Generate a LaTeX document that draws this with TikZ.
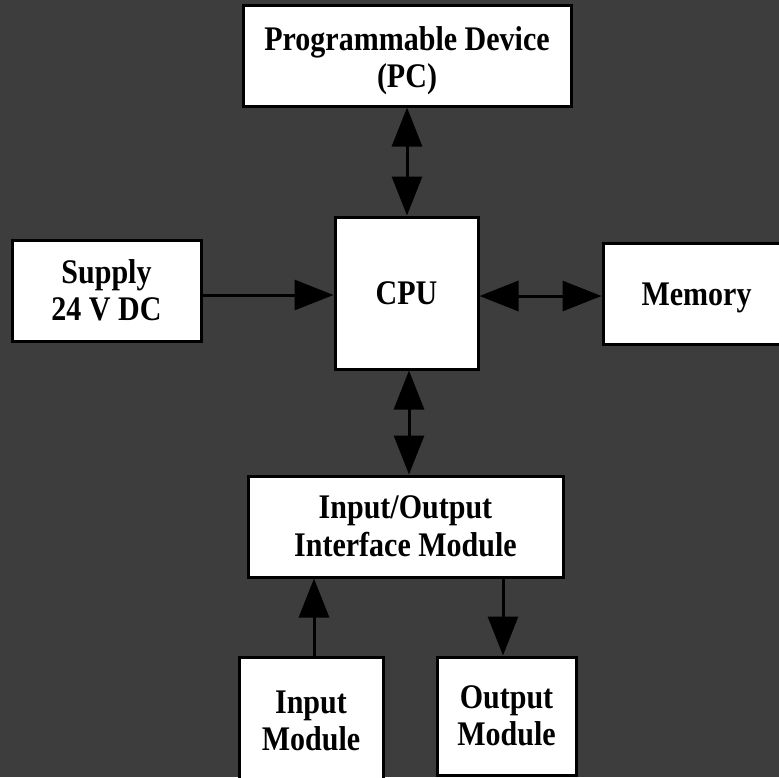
\documentclass[tikz,border=0pt]{standalone}
\usepackage{fontspec}
\setmainfont{Liberation Serif}
\newfontfamily\condserif[FakeStretch=0.87]{Liberation Serif}
\usetikzlibrary{arrows.meta}
\definecolor{bg}{RGB}{61,61,61}
\tikzset{
  blk/.style={draw=black, fill=white, line width=3pt, rectangle, align=center,
    font=\condserif\fontsize{34.5}{37.5}\selectfont\bfseries, inner sep=0pt},
  oneline/.style={text height=23pt, text depth=0pt},
  conn/.style={line width=3pt, black, {Triangle[length=39pt,width=30pt]}-{Triangle[length=39pt,width=30pt]}},
  uni/.style={line width=3pt, black, -{Triangle[length=39pt,width=30pt]}}
}
\begin{document}
\begin{tikzpicture}[x=1pt,y=-1pt]
\fill[bg] (0,0) rectangle (779,777);
\useasboundingbox (0,0) rectangle (779,777);
\node[blk, minimum width=328pt, minimum height=101pt] (pc) at (407,55.5) {\rule{0pt}{34pt}Programmable Device\\(PC)};
\node[blk, minimum width=189pt, minimum height=101pt] (sup) at (106.5,290.5) {Supply\\24 V DC};
\node[blk, oneline, minimum width=143pt, minimum height=152pt] (cpu) at (406.5,293) {CPU};
\node[blk, oneline, minimum width=187pt, minimum height=101pt] (mem) at (696.5,293.5) {Memory};
\node[blk, minimum width=315pt, minimum height=101pt] (io) at (405.5,526.5) {Input/Output\\Interface Module};
\node[blk, minimum width=144pt, minimum height=128pt] (in) at (311,721) {Input\\Module};
\node[blk, minimum width=139pt, minimum height=118pt] (out) at (506.5,716) {Output\\Module};
\draw[conn] (pc.south -| 407,0) -- (cpu.north -| 407,0);
\draw[uni] (sup.east |- 0,295) -- (cpu.west |- 0,295);
\draw[conn] (cpu.east |- 0,296) -- (mem.west |- 0,296);
\draw[conn] (cpu.south -| 409,0) -- (io.north -| 409,0);
\draw[uni] (in.north -| 314,0) -- (io.south -| 314,0);
\draw[uni] (io.south -| 503,0) -- (out.north -| 503,0);
\end{tikzpicture}
\end{document}
